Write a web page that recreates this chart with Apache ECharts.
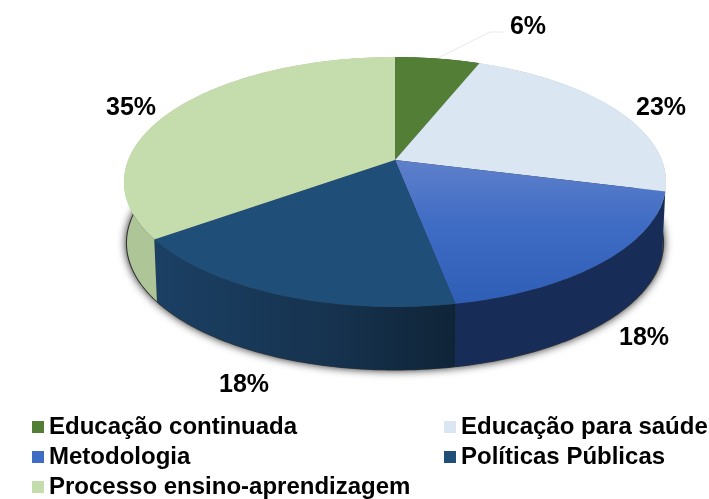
<!DOCTYPE html>
<html>
<head>
<meta charset="utf-8">
<title>Pie</title>
<script src="https://cdn.jsdelivr.net/npm/echarts@6/dist/echarts.min.js"></script>
<style>
  html, body { margin: 0; padding: 0; background: #fff; }
  #main { width: 709px; height: 499px; }
</style>
</head>
<body>
<div id="main"></div>
<script>
const categories = ['Educação continuada', 'Educação para saúde', 'Metodologia', 'Políticas Públicas', 'Processo ensino-aprendizagem'];
const shares = [6, 23, 18, 18, 35];
const shareLabels = ['6%', '23%', '18%', '18%', '35%'];

const topColors = ['#527F35', '#DBE6F3', '#3F6CC4', '#1F4E79', '#C5DDAD'];
const wallColors = ['#3F6228', '#B4BECA', '#172D58', '#15334F', '#AEC598'];
const labelFont = 'bold 25px "Liberation Sans", Arial, sans-serif';

// pixel centres of the percentage labels
const labelPos = [[528, 27], [661, 108], [644, 338], [244, 385], [131, 108]];
// legend slots, left and top of each category's row
const legendPos = [[32, 414], [444, 414], [32, 444], [444, 444], [32, 474]];

// the tilted disc: a projective map of the unit circle, apex sits above the ellipse centre
const tilt = -0.176;
const wall = { dy: 0.488, sx: 0.989, sy: 1.016 };
const floor = { dy: 0.488, sx: 0.993, sy: 1.02 };

function project(pct) {
  const a = pct / 100 * Math.PI * 2;
  const u = Math.sin(a);
  const w = -Math.cos(a);
  const den = 1 + tilt * w;
  return [u * Math.sqrt(1 - tilt * tilt) / den, (w + tilt) / den];
}

function arc(from, to) {
  const pts = [];
  const n = Math.ceil((to - from) * 3);
  for (let i = 0; i <= n; i++) {
    pts.push(project(from + (to - from) * i / n));
  }
  return pts;
}

function wedgeShape(from, to, api) {
  const pts = [[0, tilt]].concat(arc(from, to));
  return pts.map(function (p) { return api.coord(p); });
}

function wallShape(from, to, api) {
  const upper = arc(from, to);
  const lower = upper.slice().reverse().map(function (p) {
    return [p[0] * wall.sx, p[1] * wall.sy + wall.dy];
  });
  return upper.concat(lower).map(function (p) { return api.coord(p); });
}

function floorShape(from, to, api) {
  const upper = arc(from, to).map(function (p) {
    return [p[0] * floor.sx, p[1] * floor.sy + floor.dy];
  });
  return [[0, tilt + floor.dy]].concat(upper).map(function (p) { return api.coord(p); });
}

function topFill(i) {
  if (i !== 2) return topColors[i];
  return new echarts.graphic.LinearGradient(0, 0, 0, 1, [
    { offset: 0, color: '#5F80CB' },
    { offset: 0.45, color: '#3F6CC4' },
    { offset: 1, color: '#2F5EB6' }
  ]);
}

function wallFill(i) {
  if (i === 3) {
    return new echarts.graphic.LinearGradient(0, 0, 1, 0, [
      { offset: 0, color: '#1B4064' },
      { offset: 0.6, color: '#16324E' },
      { offset: 1, color: '#0F2437' }
    ]);
  }
  return wallColors[i];
}

function makeRender(i) {
  return function (params, api) {
    const from = api.value(0);
    const to = api.value(1);
    const children = [
      {
        type: 'polygon', z2: 0,
        shape: { points: floorShape(from, to, api) },
        style: { fill: '#333', shadowBlur: 9, shadowColor: 'rgba(0,0,0,0.85)' }
      },
      {
        type: 'polygon', z2: 1,
        shape: { points: wallShape(from, to, api) },
        style: { fill: wallFill(i) }
      },
      {
        type: 'polygon', z2: 5,
        shape: { points: wedgeShape(from, to, api) },
        style: { fill: topFill(i) }
      },
      {
        type: 'text', z2: 10,
        style: {
          text: shareLabels[i], x: labelPos[i][0], y: labelPos[i][1],
          font: labelFont, fill: '#000', align: 'center', verticalAlign: 'middle'
        }
      }
    ];
    if (i === 0) {
      children.push({
        type: 'polyline', z2: 6,
        shape: { points: [[438, 58], [490, 32], [503, 32]] },
        style: { stroke: '#ECE8E8', lineWidth: 1, fill: null }
      });
    }
    return { type: 'group', children: children };
  };
}

let running = 0;
const series = categories.map(function (name, i) {
  const from = running;
  running += shares[i];
  return {
    name: name,
    type: 'custom',
    coordinateSystem: 'cartesian2d',
    renderItem: makeRender(i),
    itemStyle: { color: topColors[i] },
    encode: { x: 0, y: 1 },
    data: [[from, running]],
    silent: true
  };
});

const legends = categories.map(function (name, i) {
  return {
    left: legendPos[i][0], top: legendPos[i][1],
    data: [name], icon: 'rect', itemWidth: 12, itemHeight: 12,
    padding: 0, selectedMode: false,
    textStyle: {
      color: '#000', fontFamily: '"Liberation Sans", Arial, sans-serif',
      fontWeight: 'bold', fontSize: 24, lineHeight: 26
    }
  };
});

const chart = echarts.init(document.getElementById('main'));
chart.setOption({
  animation: false,
  backgroundColor: '#fff',
  legend: legends,
  grid: { left: 124, top: 57, width: 542, height: 325 },
  xAxis: { type: 'value', min: -1, max: 1, show: false },
  yAxis: { type: 'value', min: -1, max: 1.6, inverse: true, show: false },
  series: series
});
</script>
</body>
</html>
